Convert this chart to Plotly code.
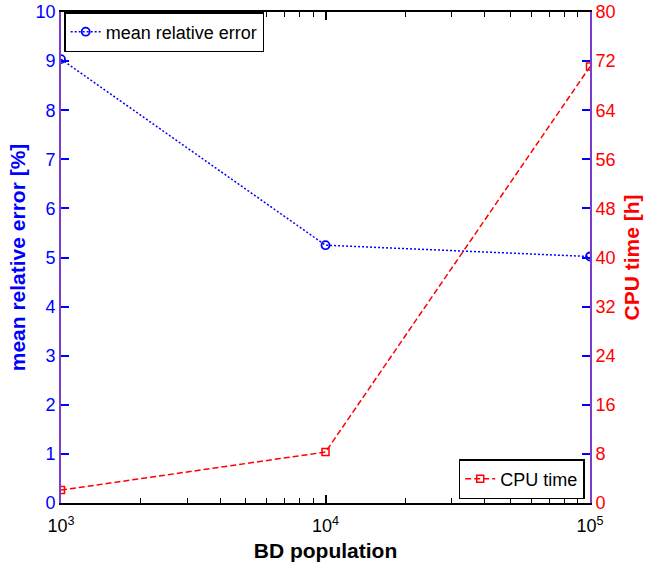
import plotly.graph_objects as go

population = [1e3, 1e4, 1e5]
mean_rel_error = [9.04, 5.25, 5.02]
cpu_time = [2.1, 8.3, 71.1]

x_tickvals = [1e3, 1e4, 1e5]
x_ticktext = ["10<sup>3</sup>", "10<sup>4</sup>", "10<sup>5</sup>"]
x_minor = [2e3, 3e3, 4e3, 5e3, 6e3, 7e3, 8e3, 9e3,
           2e4, 3e4, 4e4, 5e4, 6e4, 7e4, 8e4, 9e4]
left_ticks = list(range(0, 11))
right_ticks = list(range(0, 81, 8))

FONT = "Liberation Sans, Arial, sans-serif"
BLUE = "#0000ff"
RED = "#ff0000"
AXIS_PURPLE = "#7a3ccc"

fig = go.Figure()
fig.add_trace(go.Scatter(
    x=population, y=mean_rel_error, name="mean relative error",
    mode="lines+markers",
    line=dict(color=BLUE, dash="2px,2px", width=1.5),
    marker=dict(symbol="circle-open", size=8, color=BLUE, line=dict(width=1.8)),
    legend="legend",
))
fig.add_trace(go.Scatter(
    x=population, y=cpu_time, name="CPU time", yaxis="y2",
    mode="lines+markers",
    line=dict(color=RED, dash="6px,3px", width=1.5),
    marker=dict(symbol="square-open", size=7, color=RED, line=dict(width=1.5)),
    legend="legend2",
))

fig.update_layout(
    width=671, height=569,
    margin=dict(l=61, r=81, t=12, b=66),
    paper_bgcolor="white", plot_bgcolor="white",
    showlegend=True,
    font=dict(family=FONT, size=18, color="black"),
    xaxis=dict(
        type="log", range=[3, 5], automargin=False,
        tickvals=x_tickvals, ticktext=x_ticktext,
        ticks="inside", ticklen=8, tickcolor="black", tickwidth=1.5,
        ticklabelstandoff=6,
        showline=True, linecolor="black", linewidth=1.5, mirror="ticks",
        showgrid=False, zeroline=False,
        tickfont=dict(size=18, color="black"),
        minor=dict(tickvals=x_minor, ticks="inside", ticklen=5, tickcolor="black",
                   tickwidth=1.2, showgrid=False),
        title=dict(text="<b>BD population</b>", font=dict(size=21, color="black"), standoff=8),
    ),
    yaxis=dict(
        range=[0, 10], tickvals=left_ticks, automargin=False,
        ticks="inside", ticklen=8, tickcolor=BLUE, tickwidth=1.5,
        showline=True, linecolor=AXIS_PURPLE, linewidth=1.8, mirror="ticks",
        showgrid=False, zeroline=False,
        tickfont=dict(size=18, color=BLUE),
        title=dict(text="<b>mean relative error [%]</b>", font=dict(size=21, color=BLUE), standoff=4),
    ),
    yaxis2=dict(
        range=[0, 80], tickvals=right_ticks, overlaying="y", side="right", automargin=False,
        ticks="inside", ticklen=8, tickcolor=BLUE, tickwidth=1.5,
        showline=True, linecolor=AXIS_PURPLE, linewidth=1.8,
        showgrid=False, zeroline=False,
        tickfont=dict(size=18, color=RED),
        title=dict(text="<b>CPU time [h]</b>", font=dict(size=21, color=RED), standoff=10),
    ),
    legend=dict(
        x=0.006, y=1.0, xanchor="left", yanchor="top",
        bgcolor="white", bordercolor="black", borderwidth=1.5,
        font=dict(size=18, color="black"),
        itemwidth=30, tracegroupgap=0,
    ),
    legend2=dict(
        x=0.99, y=0.008, xanchor="right", yanchor="bottom",
        bgcolor="white", bordercolor="black", borderwidth=1.5,
        font=dict(size=18, color="black"),
        itemwidth=30,
    ),
)

fig.write_html("out.html", config={"displayModeBar": False},
               post_script="document.body.style.margin='0px';")
